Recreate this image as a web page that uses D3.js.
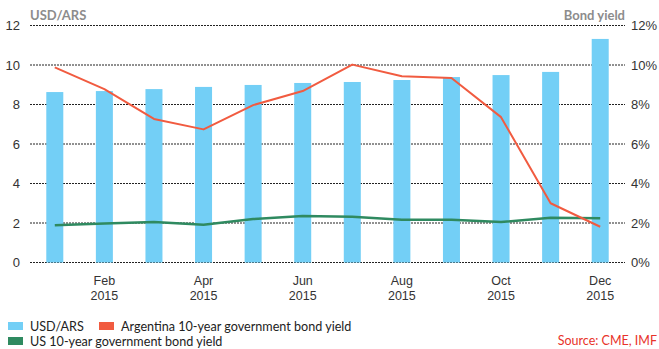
<!DOCTYPE html>
<html>
<head>
<meta charset="utf-8">
<script src="https://cdn.jsdelivr.net/npm/d3@7/dist/d3.min.js"></script>
<style>
  html, body { margin: 0; padding: 0; background: #fff; }
  svg { display: block; font-family: Lato, "Open Sans", sans-serif; }
</style>
</head>
<body>
<svg id="chart" width="659" height="349"></svg>
<script>
// Monthly data, 2015
const months = ["Jan", "Feb", "Mar", "Apr", "May", "Jun", "Jul", "Aug", "Sep", "Oct", "Nov", "Dec"];
const usdArs = [8.63, 8.68, 8.78, 8.89, 8.99, 9.09, 9.14, 9.24, 9.39, 9.49, 9.65, 11.32];
const argYield = [9.88, 8.78, 7.27, 6.74, 7.97, 8.68, 10.02, 9.43, 9.34, 7.36, 3.0, 1.81];
const usYield = [1.88, 1.97, 2.05, 1.91, 2.20, 2.35, 2.32, 2.17, 2.17, 2.05, 2.27, 2.24];
const leftTicks = [0, 2, 4, 6, 8, 10, 12];
const rightTicks = [0, 2, 4, 6, 8, 10, 12];
const labelledMonths = ["Feb", "Apr", "Jun", "Aug", "Oct", "Dec"];
const year = "2015";

const colors = { bar: "#73CFF6", arg: "#F15B40", us: "#2F8A60", grid: "#222", axisTitle: "#8C8C8C", text: "#333" };

const svg = d3.select("#chart");
const plotLeft = 30, plotRight = 625, plotTop = 25.5, plotBottom = 262.5;

const x = d3.scaleBand().domain(months).range([plotLeft, plotRight]).paddingInner(0.657).paddingOuter(0.3285);
const yL = d3.scaleLinear().domain([0, 12]).range([plotBottom, plotTop]);
const yR = d3.scaleLinear().domain([0, 12]).range([plotBottom, plotTop]);

// Gridlines
svg.append("g").selectAll("line").data(leftTicks).join("line")
  .attr("x1", plotLeft).attr("x2", plotRight)
  .attr("y1", d => yL(d)).attr("y2", d => yL(d))
  .attr("stroke", colors.grid).attr("stroke-width", 1)
  .attr("stroke-dasharray", "2,1");

// Left axis
const leftAxis = svg.append("g").attr("transform", `translate(${plotLeft},0)`)
  .call(d3.axisLeft(yL).tickValues(leftTicks).tickSize(0).tickPadding(10));
leftAxis.select(".domain").remove();
leftAxis.selectAll("text").attr("font-size", 13).attr("fill", colors.text);

// Right axis
const rightAxis = svg.append("g").attr("transform", `translate(${plotRight},0)`)
  .call(d3.axisRight(yR).tickValues(rightTicks).tickSize(0).tickPadding(6).tickFormat(d => d + "%"));
rightAxis.select(".domain").remove();
rightAxis.selectAll("text").attr("font-size", 13).attr("fill", colors.text);

// Bars
svg.append("g").selectAll("rect").data(usdArs).join("rect")
  .attr("x", (d, i) => x(months[i]))
  .attr("width", x.bandwidth())
  .attr("y", d => yL(d))
  .attr("height", d => yL(0) - yL(d))
  .attr("fill", colors.bar);

const cx = m => x(m) + x.bandwidth() / 2;

// Lines
const line = d3.line().x((d, i) => cx(months[i])).y(d => yR(d));
svg.append("path").datum(usYield).attr("d", line)
  .attr("fill", "none").attr("stroke", colors.us).attr("stroke-width", 2.5).attr("stroke-linejoin", "round");
svg.append("path").datum(argYield).attr("d", line)
  .attr("fill", "none").attr("stroke", colors.arg).attr("stroke-width", 2).attr("stroke-linejoin", "round");

// Bottom axis
const xAxis = svg.append("g").attr("transform", `translate(0,${plotBottom})`)
  .call(d3.axisBottom(x).tickValues(labelledMonths).tickSize(0).tickFormat(""));
xAxis.select(".domain").remove();
xAxis.selectAll(".tick").each(function(d) {
  const t = d3.select(this).append("text").attr("fill", colors.text).attr("font-size", 12.5).attr("text-anchor", "middle");
  t.append("tspan").attr("x", 0).attr("y", 22).text(d);
  t.append("tspan").attr("x", 0).attr("y", 37).text(year);
});

// Axis titles
svg.append("text").attr("x", plotLeft).attr("y", 20).text("USD/ARS")
  .attr("font-size", 13).attr("font-weight", "bold").attr("fill", colors.axisTitle);
svg.append("text").attr("x", plotRight).attr("y", 20).attr("text-anchor", "end").text("Bond yield")
  .attr("font-size", 13).attr("font-weight", "bold").attr("fill", colors.axisTitle);

// Legend
const legend = [
  { label: "USD/ARS", color: colors.bar, x: 8, y: 322 },
  { label: "Argentina 10-year government bond yield", color: colors.arg, x: 99, y: 322 },
  { label: "US 10-year government bond yield", color: colors.us, x: 8, y: 337 }
];
const lg = svg.append("g").selectAll("g").data(legend).join("g")
  .attr("transform", d => `translate(${d.x},${d.y})`);
lg.append("rect").attr("width", 15).attr("height", 8).attr("fill", d => d.color);
lg.append("text").attr("x", 22).attr("y", 8.5).attr("font-size", 12.6).attr("fill", "#222").text(d => d.label);

svg.append("text").attr("x", 657).attr("y", 345).attr("text-anchor", "end")
  .attr("font-size", 12.5).attr("fill", "#E8322A").text("Source: CME, IMF");
</script>
</body>
</html>
